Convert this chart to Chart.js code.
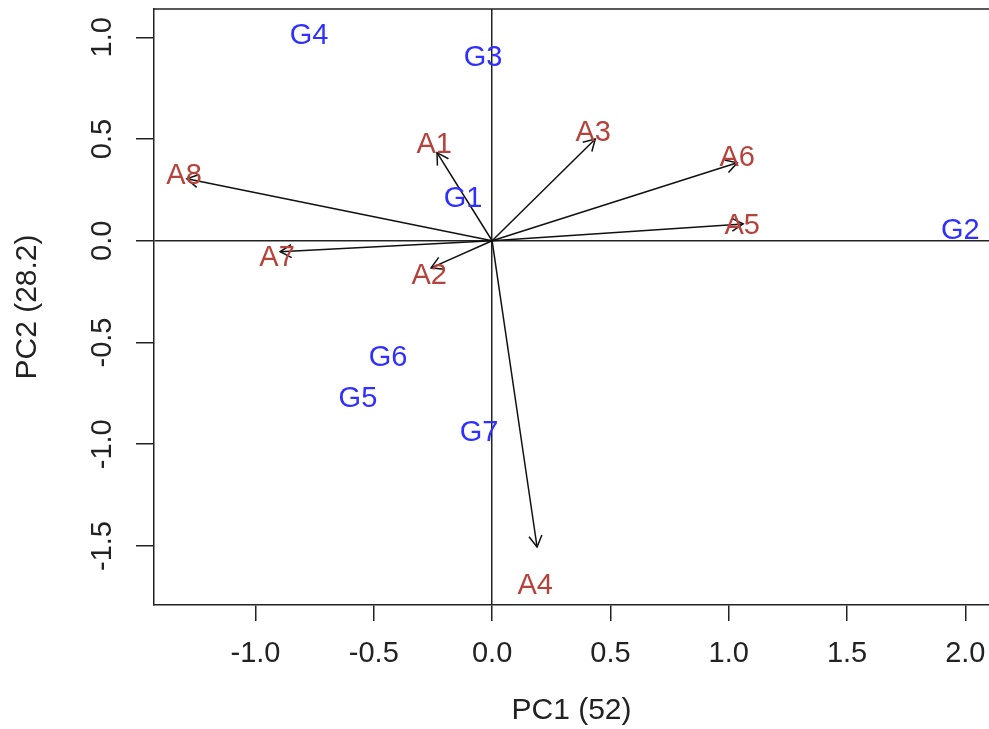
<!DOCTYPE html>
<html>
<head>
<meta charset="utf-8">
<script src="https://cdn.jsdelivr.net/npm/chart.js@4/dist/chart.umd.min.js"></script>
<style>
  html, body { margin: 0; padding: 0; background: #fff; overflow: hidden; }
  canvas { display: block; }
</style>
</head>
<body>
<canvas id="biplot" width="989" height="729"></canvas>
<script>
// PCA biplot: trait vectors (A1..A8) drawn as arrows from the origin,
// genotype scores (G1..G7) drawn as blue text labels.

const traitNames = ["A1", "A2", "A3", "A4", "A5", "A6", "A7", "A8"];
// arrow tips
const traitX = [-0.233, -0.258, 0.436, 0.190, 1.061, 1.036, -0.896, -1.290];
const traitY = [0.433, -0.133, 0.500, -1.505, 0.083, 0.383, -0.054, 0.305];
// where the trait labels sit
const traitLabelX = [-0.245, -0.266, 0.427, 0.182, 1.057, 1.036, -0.909, -1.302];
const traitLabelY = [0.477, -0.167, 0.536, -1.692, 0.079, 0.413, -0.079, 0.325];

const genoNames = ["G1", "G2", "G3", "G4", "G5", "G6", "G7"];
const genoX = [-0.123, 1.979, -0.038, -0.774, -0.567, -0.440, -0.055];
const genoY = [0.212, 0.054, 0.905, 1.013, -0.772, -0.571, -0.940];

const X_TITLE = "PC1 (52)";
const Y_TITLE = "PC2 (28.2)";

const TRAIT_COLOR = "#b5433b";
const GENO_COLOR = "#2f2fff";
const INK = "#222";
const FONT = "'Liberation Sans', Arial, sans-serif";

const arrowSets = traitNames.map((n, i) => ({
  label: n,
  data: [{ x: 0, y: 0 }, { x: traitX[i], y: traitY[i] }],
  showLine: true,
  borderColor: "#111",
  borderWidth: 1.5,
  pointRadius: 0,
  arrow: true,
}));

const traitLabelSet = {
  label: "traits",
  data: traitNames.map((n, i) => ({ x: traitLabelX[i], y: traitLabelY[i] })),
  pointRadius: 0,
  names: traitNames,
  textColor: TRAIT_COLOR,
};
const genoLabelSet = {
  label: "genotypes",
  data: genoNames.map((n, i) => ({ x: genoX[i], y: genoY[i] })),
  pointRadius: 0,
  names: genoNames,
  textColor: GENO_COLOR,
};

const zeroLine = (ctx) => (ctx.tick && ctx.tick.value === 0 ? INK : "rgba(0,0,0,0)");

// open arrowheads, top frame line, text labels, rotated y tick labels
const biplotDecor = {
  id: "biplotDecor",
  afterDatasetsDraw(chart) {
    const { ctx, chartArea, scales } = chart;
    const ys = scales.y;
    ctx.save();

    // top border of the box
    ctx.strokeStyle = INK;
    ctx.lineWidth = 1.5;
    ctx.beginPath();
    ctx.moveTo(chartArea.left, chartArea.top);
    ctx.lineTo(chartArea.right, chartArea.top);
    ctx.stroke();

    chart.data.datasets.forEach((ds, di) => {
      const meta = chart.getDatasetMeta(di);
      if (ds.arrow) {
        const p0 = meta.data[0], p1 = meta.data[1];
        const ang = Math.atan2(p1.y - p0.y, p1.x - p0.x);
        const len = 13, spread = Math.PI / 6;
        ctx.strokeStyle = "#111";
        ctx.lineWidth = 1.5;
        ctx.beginPath();
        ctx.moveTo(p1.x - len * Math.cos(ang - spread), p1.y - len * Math.sin(ang - spread));
        ctx.lineTo(p1.x, p1.y);
        ctx.lineTo(p1.x - len * Math.cos(ang + spread), p1.y - len * Math.sin(ang + spread));
        ctx.stroke();
      } else if (ds.names) {
        ctx.fillStyle = ds.textColor;
        ctx.font = `29px ${FONT}`;
        ctx.textAlign = "center";
        ctx.textBaseline = "middle";
        meta.data.forEach((pt, i) => ctx.fillText(ds.names[i], pt.x, pt.y + 1));
      }
    });

    // y tick labels, rotated like R's default axis
    ctx.fillStyle = INK;
    ctx.font = `29px ${FONT}`;
    ctx.textAlign = "center";
    ctx.textBaseline = "middle";
    for (const t of ys.ticks) {
      const py = ys.getPixelForValue(t.value);
      ctx.save();
      ctx.translate(103, py);
      ctx.rotate(-Math.PI / 2);
      ctx.fillText(t.value.toFixed(1), 0, 0);
      ctx.restore();
    }
    ctx.restore();
  },
};

new Chart(document.getElementById("biplot"), {
  type: "scatter",
  data: { datasets: [...arrowSets, traitLabelSet, genoLabelSet] },
  options: {
    responsive: false,
    animation: false,
    layout: { padding: { top: 9, right: 0, left: 0, bottom: 0 } },
    plugins: { legend: { display: false }, tooltip: { enabled: false } },
    scales: {
      x: {
        type: "linear",
        min: -1.429,
        max: 2.10,
        afterFit: (s) => { s.height = 124; s.paddingLeft = 0; s.paddingRight = 0; },
        ticks: {
          stepSize: 0.5,
          includeBounds: false,
          color: INK,
          font: { family: FONT, size: 29 },
          padding: 16,
          callback: (v) => v.toFixed(1),
        },
        grid: { color: zeroLine, lineWidth: 1.5, tickColor: INK, tickLength: 16, tickWidth: 1.5 },
        border: { display: true, color: INK, width: 1.5 },
        title: { display: true, text: X_TITLE, color: INK, font: { family: FONT, size: 30 }, padding: { top: 0, bottom: 0 } },
      },
      y: {
        type: "linear",
        min: -1.79,
        max: 1.139,
        afterFit: (s) => { s.width = 154; s.paddingTop = 0; s.paddingBottom = 0; },
        ticks: { stepSize: 0.5, includeBounds: false, display: false },
        grid: { color: zeroLine, lineWidth: 1.5, tickColor: INK, tickLength: 18, tickWidth: 1.5 },
        border: { display: true, color: INK, width: 1.5 },
        title: { display: true, text: Y_TITLE, color: INK, font: { family: FONT, size: 30 }, padding: { top: 10, bottom: 0 } },
      },
    },
  },
  plugins: [biplotDecor],
});
</script>
</body>
</html>
